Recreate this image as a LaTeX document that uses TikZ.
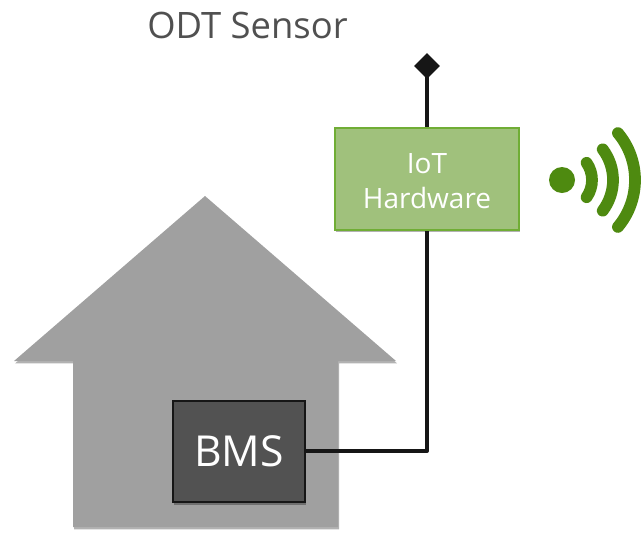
\documentclass[tikz,border=0pt]{standalone}
\usepackage{fontspec}
\setmainfont{Open Sans}
\usetikzlibrary{shapes.geometric,shadows}
\definecolor{housegray}{HTML}{A0A0A0}
\definecolor{bmsfill}{HTML}{525252}
\definecolor{linedark}{HTML}{161616}
\definecolor{iotfill}{HTML}{A0C17C}
\definecolor{iotline}{HTML}{70AD35}
\definecolor{wifigreen}{HTML}{4E8A10}
\definecolor{titlegray}{HTML}{505050}
\tikzset{
  softshadow/.style={drop shadow={shadow xshift=0.8pt,shadow yshift=-1.8pt,fill=black,opacity=0.3}},
  iotbox/.style={draw=iotline,line width=1.5pt,fill=iotfill,text=white,minimum width=138pt,minimum height=76.5pt,inner sep=0pt,align=center,font=\fontsize{21}{26}\selectfont,softshadow},
  bmsbox/.style={draw=linedark,line width=1.1pt,fill=bmsfill,text=white,minimum width=99pt,minimum height=76pt,inner sep=0pt,font=\fontsize{32}{38}\selectfont,softshadow},
  wire/.style={draw=linedark,line width=3pt,line join=round},
  tipdiamond/.style={diamond,aspect=1,fill=linedark,inner sep=0pt,minimum size=19.5pt},
  wave/.style={draw=wifigreen,line width=8.8pt,line cap=round}
}
\begin{document}
\begin{tikzpicture}[x=0.75pt,y=-0.75pt]
\useasboundingbox (0,0) rectangle (641,533);
\fill[housegray,softshadow] (205,196) -- (396,361) -- (338,361) -- (338,527) -- (73,527) -- (73,361) -- (14,361) -- cycle;
\node[font=\fontsize{27.3}{32}\selectfont,text=titlegray] (title) at (247.5,25) {ODT Sensor};
\node[tipdiamond] (tip) at (427,66) {};
\node[iotbox] (iot) at (427,179) {\rule{0pt}{18pt}IoT\\Hardware};
\node[bmsbox] (bms) at (239,451.5) {BMS};
\coordinate (corner) at (427,451);
\draw[wire] (tip.center) -- (iot.north);
\draw[wire] (iot.south) -- (corner) -- (bms.east |- corner);
\node[circle,fill=wifigreen,minimum size=19.5pt,inner sep=0pt] (dot) at (562,180) {};
\draw[wave] ([shift={(-35:30)}]dot.center) arc[start angle=-35,end angle=35,radius=30];
\draw[wave] ([shift={(-37:51)}]dot.center) arc[start angle=-37,end angle=37,radius=51];
\draw[wave] ([shift={(-40:73)}]dot.center) arc[start angle=-40,end angle=40,radius=73];
\end{tikzpicture}
\end{document}
